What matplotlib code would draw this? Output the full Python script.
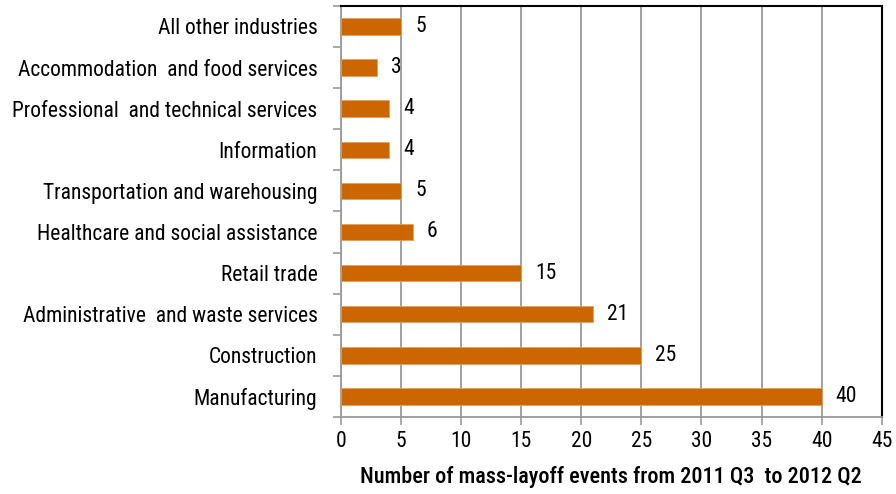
import matplotlib.pyplot as plt
from matplotlib.ticker import MultipleLocator

# Mass-layoff events by industry, 2011 Q3 - 2012 Q2
industries = ['Manufacturing', 'Construction', 'Administrative  and waste services',
              'Retail trade', 'Healthcare and social assistance',
              'Transportation and warehousing', 'Information',
              'Professional  and technical services', 'Accommodation  and food services',
              'All other industries']
events = [40, 25, 21, 15, 6, 5, 4, 4, 3, 5]

plt.rcParams['font.family'] = ['Roboto Condensed', 'DejaVu Sans']
FS = 15.5

fig = plt.figure(figsize=(8.96, 4.94), dpi=100)
ax = fig.add_axes([0.3806, 0.156, 0.6034, 0.832])

ypos = range(len(industries))
ax.barh(ypos, events, height=0.4, color='#cc6600', edgecolor='#e0a060',
        linewidth=0.6, zorder=3)
for y, v in zip(ypos, events):
    ax.annotate(str(v), (v, y), xytext=(10, 0), textcoords='offset points',
                va='center', ha='left', fontsize=FS)

ax.set_xlim(0, 45)
ax.set_ylim(-0.5, len(industries) - 0.5)
ax.xaxis.set_major_locator(MultipleLocator(5))
# category borders get the tick marks, names sit between them
ax.set_yticks([i - 0.5 for i in range(len(industries) + 1)])
ax.set_yticklabels([])
ax.set_yticks(list(ypos), minor=True)
ax.set_yticklabels(industries, minor=True, fontsize=FS)
ax.tick_params(axis='y', which='minor', length=0, pad=17)
ax.tick_params(axis='y', which='major', length=6, color='#999999', width=1.2)
ax.tick_params(axis='x', length=6, color='#999999', width=1.2, labelsize=FS, pad=4)

ax.grid(axis='x', color='#999999', linewidth=1.3, zorder=0)
for side in ('left', 'bottom'):
    ax.spines[side].set_color('#999999')
    ax.spines[side].set_linewidth(1.3)
for side in ('top', 'right'):
    ax.spines[side].set_color('black')
    ax.spines[side].set_linewidth(1.5)

ax.set_xlabel('Number of mass-layoff events from 2011 Q3  to 2012 Q2',
              fontsize=16, fontweight='medium', labelpad=10)

fig.savefig('out.png', dpi=100)
